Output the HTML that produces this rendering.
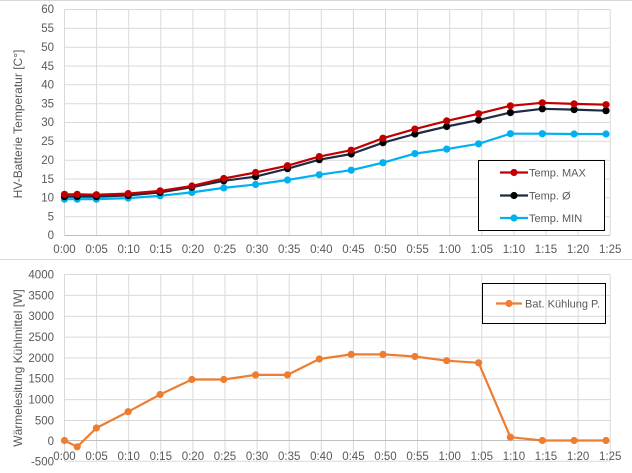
<!DOCTYPE html>
<html><head><meta charset="utf-8"><style>
html,body{margin:0;padding:0;background:#fff;}
svg{display:block;font-family:"Liberation Sans",sans-serif;}
</style></head><body>
<svg width="632" height="473" viewBox="0 0 632 473" xmlns="http://www.w3.org/2000/svg">
<rect width="632" height="473" fill="#fff"/>
<line x1="0" y1="0.5" x2="632" y2="0.5" stroke="#d9d9d9"/>
<line x1="0" y1="259.5" x2="632" y2="259.5" stroke="#d9d9d9"/>
<g stroke="#d9d9d9" stroke-width="1" fill="none">
<path d="M64.5 9.5H610M64.5 28.3H610M64.5 47.2H610M64.5 66H610M64.5 84.8H610M64.5 103.7H610M64.5 122.5H610M64.5 141.3H610M64.5 160.2H610M64.5 179H610M64.5 197.8H610M64.5 216.7H610"/>
<path d="M64.5 9.5V235M96.6 9.5V235M128.7 9.5V235M160.8 9.5V235M192.9 9.5V235M225 9.5V235M257.1 9.5V235M289.2 9.5V235M321.3 9.5V235M353.4 9.5V235M385.5 9.5V235M417.6 9.5V235M449.7 9.5V235M481.8 9.5V235M513.9 9.5V235M546 9.5V235M578.1 9.5V235M610.2 9.5V235"/>
<path d="M64.5 274.5H610M64.5 295.4H610M64.5 316.2H610M64.5 337.1H610M64.5 357.9H610M64.5 378.8H610M64.5 399.6H610M64.5 420.5H610M64.5 461.2H610"/>
<path d="M64.5 274.5V461M96.6 274.5V461M128.7 274.5V461M160.8 274.5V461M192.9 274.5V461M225 274.5V461M257.1 274.5V461M289.2 274.5V461M321.3 274.5V461M353.4 274.5V461M385.5 274.5V461M417.6 274.5V461M449.7 274.5V461M481.8 274.5V461M513.9 274.5V461M546 274.5V461M578.1 274.5V461M610.2 274.5V461"/>
</g>
<line x1="64.5" y1="235.5" x2="610" y2="235.5" stroke="#bfbfbf"/>
<line x1="64.5" y1="440.5" x2="610" y2="440.5" stroke="#bfbfbf"/>
<g font-size="11.5" fill="#595959" text-anchor="end">
<text x="54" y="13">60</text><text x="54" y="32">55</text><text x="54" y="51">50</text><text x="54" y="70">45</text><text x="54" y="88.5">40</text><text x="54" y="107.5">35</text><text x="54" y="126">30</text><text x="54" y="145">25</text><text x="54" y="164">20</text><text x="54" y="183">15</text><text x="54" y="201.5">10</text><text x="54" y="220.5">5</text><text x="54" y="239">0</text>
<text x="54" y="278.5">4000</text><text x="54" y="299.5">3500</text><text x="54" y="320">3000</text><text x="54" y="341">2500</text><text x="54" y="362">2000</text><text x="54" y="382.5">1500</text><text x="54" y="403.5">1000</text><text x="54" y="424.5">500</text><text x="54" y="445">0</text><text x="54" y="465.5">-500</text>
</g>
<g font-size="11.5" fill="#595959" text-anchor="middle">
<text x="64.5" y="253">0:00</text><text x="96.6" y="253">0:05</text><text x="128.7" y="253">0:10</text><text x="160.8" y="253">0:15</text><text x="192.9" y="253">0:20</text><text x="225" y="253">0:25</text><text x="257.1" y="253">0:30</text><text x="289.2" y="253">0:35</text><text x="321.3" y="253">0:40</text><text x="353.4" y="253">0:45</text><text x="385.5" y="253">0:50</text><text x="417.6" y="253">0:55</text><text x="449.7" y="253">1:00</text><text x="481.8" y="253">1:05</text><text x="513.9" y="253">1:10</text><text x="546" y="253">1:15</text><text x="578.1" y="253">1:20</text><text x="610.2" y="253">1:25</text>
<text x="64.5" y="460">0:00</text><text x="96.6" y="460">0:05</text><text x="128.7" y="460">0:10</text><text x="160.8" y="460">0:15</text><text x="192.9" y="460">0:20</text><text x="225" y="460">0:25</text><text x="257.1" y="460">0:30</text><text x="289.2" y="460">0:35</text><text x="321.3" y="460">0:40</text><text x="353.4" y="460">0:45</text><text x="385.5" y="460">0:50</text><text x="417.6" y="460">0:55</text><text x="449.7" y="460">1:00</text><text x="481.8" y="460">1:05</text><text x="513.9" y="460">1:10</text><text x="546" y="460">1:15</text><text x="578.1" y="460">1:20</text><text x="610.2" y="460">1:25</text>
</g>
<text transform="translate(22,124) rotate(-90)" font-size="12" fill="#595959" text-anchor="middle">HV-Batterie Temperatur [C°]</text>
<text transform="translate(22,368) rotate(-90)" font-size="12" fill="#595959" text-anchor="middle">Wärmelesitung Kühlmittel [W]</text>

<g fill="none" stroke-width="2.2" stroke-linejoin="round">
<polyline stroke="#00b0f0" points="64.5,199.2 77.2,199.2 96.4,199.2 128.2,198.1 160.1,195.8 191.9,192.4 223.8,187.9 255.6,184.5 287.5,180 319.3,174.7 351.2,170.2 383,162.7 414.9,153.6 446.7,149.1 478.6,143.8 510.4,133.7 542.3,133.7 574.1,134 606,134"/>
<polyline stroke="#1f2a44" points="64.5,196.6 77.2,196.6 96.4,196.6 128.2,195.4 160.1,192.4 191.9,187.2 223.8,180.8 255.6,176.6 287.5,168.7 319.3,159.7 351.2,154 383,142.7 414.9,134 446.7,126.5 478.6,120.1 510.4,112.6 542.3,108.8 574.1,109.6 606,110.7"/>
<polyline stroke="#c00000" points="64.5,194.3 77.2,194.3 96.4,194.7 128.2,193.6 160.1,190.9 191.9,186 223.8,178.5 255.6,172.5 287.5,165.7 319.3,156.6 351.2,150.2 383,138.2 414.9,129.1 446.7,120.9 478.6,113.7 510.4,105.8 542.3,102.8 574.1,103.9 606,104.7"/>
<polyline stroke="#ed7d31" points="64.5,440.5 77.2,446.8 96.4,428 128.2,411.7 160.1,394.5 191.9,379.5 223.8,379.5 255.6,374.9 287.5,374.9 319.3,359 351.2,354.4 383,354.4 414.9,356.5 446.7,360.7 478.6,362.8 510.4,437.2 542.3,440.5 574.1,440.5 606,440.5"/>
</g>
<g fill="#00b0f0">
<circle cx="64.5" cy="199.2" r="3.6"/><circle cx="77.2" cy="199.2" r="3.6"/><circle cx="96.4" cy="199.2" r="3.6"/><circle cx="128.2" cy="198.1" r="3.6"/><circle cx="160.1" cy="195.8" r="3.6"/><circle cx="191.9" cy="192.4" r="3.6"/><circle cx="223.8" cy="187.9" r="3.6"/><circle cx="255.6" cy="184.5" r="3.6"/><circle cx="287.5" cy="180" r="3.6"/><circle cx="319.3" cy="174.7" r="3.6"/><circle cx="351.2" cy="170.2" r="3.6"/><circle cx="383" cy="162.7" r="3.6"/><circle cx="414.9" cy="153.6" r="3.6"/><circle cx="446.7" cy="149.1" r="3.6"/><circle cx="478.6" cy="143.8" r="3.6"/><circle cx="510.4" cy="133.7" r="3.6"/><circle cx="542.3" cy="133.7" r="3.6"/><circle cx="574.1" cy="134" r="3.6"/><circle cx="606" cy="134" r="3.6"/>
</g>
<g fill="#000">
<circle cx="64.5" cy="196.6" r="3.6"/><circle cx="77.2" cy="196.6" r="3.6"/><circle cx="96.4" cy="196.6" r="3.6"/><circle cx="128.2" cy="195.4" r="3.6"/><circle cx="160.1" cy="192.4" r="3.6"/><circle cx="191.9" cy="187.2" r="3.6"/><circle cx="223.8" cy="180.8" r="3.6"/><circle cx="255.6" cy="176.6" r="3.6"/><circle cx="287.5" cy="168.7" r="3.6"/><circle cx="319.3" cy="159.7" r="3.6"/><circle cx="351.2" cy="154" r="3.6"/><circle cx="383" cy="142.7" r="3.6"/><circle cx="414.9" cy="134" r="3.6"/><circle cx="446.7" cy="126.5" r="3.6"/><circle cx="478.6" cy="120.1" r="3.6"/><circle cx="510.4" cy="112.6" r="3.6"/><circle cx="542.3" cy="108.8" r="3.6"/><circle cx="574.1" cy="109.6" r="3.6"/><circle cx="606" cy="110.7" r="3.6"/>
</g>
<g fill="#c00000">
<circle cx="64.5" cy="194.3" r="3.6"/><circle cx="77.2" cy="194.3" r="3.6"/><circle cx="96.4" cy="194.7" r="3.6"/><circle cx="128.2" cy="193.6" r="3.6"/><circle cx="160.1" cy="190.9" r="3.6"/><circle cx="191.9" cy="186" r="3.6"/><circle cx="223.8" cy="178.5" r="3.6"/><circle cx="255.6" cy="172.5" r="3.6"/><circle cx="287.5" cy="165.7" r="3.6"/><circle cx="319.3" cy="156.6" r="3.6"/><circle cx="351.2" cy="150.2" r="3.6"/><circle cx="383" cy="138.2" r="3.6"/><circle cx="414.9" cy="129.1" r="3.6"/><circle cx="446.7" cy="120.9" r="3.6"/><circle cx="478.6" cy="113.7" r="3.6"/><circle cx="510.4" cy="105.8" r="3.6"/><circle cx="542.3" cy="102.8" r="3.6"/><circle cx="574.1" cy="103.9" r="3.6"/><circle cx="606" cy="104.7" r="3.6"/>
</g>
<g fill="#ed7d31">
<circle cx="64.5" cy="440.5" r="3.6"/><circle cx="77.2" cy="446.8" r="3.6"/><circle cx="96.4" cy="428" r="3.6"/><circle cx="128.2" cy="411.7" r="3.6"/><circle cx="160.1" cy="394.5" r="3.6"/><circle cx="191.9" cy="379.5" r="3.6"/><circle cx="223.8" cy="379.5" r="3.6"/><circle cx="255.6" cy="374.9" r="3.6"/><circle cx="287.5" cy="374.9" r="3.6"/><circle cx="319.3" cy="359" r="3.6"/><circle cx="351.2" cy="354.4" r="3.6"/><circle cx="383" cy="354.4" r="3.6"/><circle cx="414.9" cy="356.5" r="3.6"/><circle cx="446.7" cy="360.7" r="3.6"/><circle cx="478.6" cy="362.8" r="3.6"/><circle cx="510.4" cy="437.2" r="3.6"/><circle cx="542.3" cy="440.5" r="3.6"/><circle cx="574.1" cy="440.5" r="3.6"/><circle cx="606" cy="440.5" r="3.6"/>
</g>

<rect x="478.5" y="160.5" width="126" height="70" fill="#fff" stroke="#000" stroke-width="1"/>
<g stroke-width="2.2">
<line x1="500" y1="172.5" x2="528" y2="172.5" stroke="#c00000"/>
<line x1="500" y1="195.5" x2="528" y2="195.5" stroke="#1f2a44"/>
<line x1="500" y1="218" x2="528" y2="218" stroke="#00b0f0"/>
<line x1="496" y1="303.5" x2="522" y2="303.5" stroke="#ed7d31"/>
</g>
<circle cx="514" cy="172.5" r="3.6" fill="#c00000"/>
<circle cx="514" cy="195.5" r="3.6" fill="#000"/>
<circle cx="514" cy="218" r="3.6" fill="#00b0f0"/>
<circle cx="509" cy="303.5" r="3.6" fill="#ed7d31"/>
<g font-size="11" fill="#595959">
<text x="529" y="176.5">Temp. MAX</text>
<text x="529" y="199.5">Temp. Ø</text>
<text x="529" y="222">Temp. MIN</text>
<text x="525" y="307.5">Bat. Kühlung P.</text>
</g>
<rect x="482.5" y="283.5" width="123" height="40" fill="none" stroke="#000" stroke-width="1"/>
</svg>
</body></html>
